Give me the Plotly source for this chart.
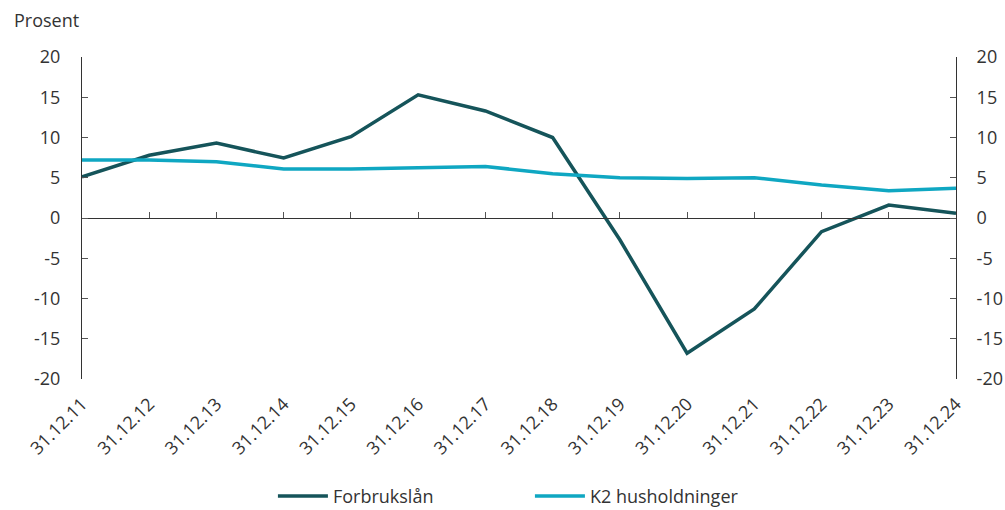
import plotly.graph_objects as go

dates = ["31.12.11", "31.12.12", "31.12.13", "31.12.14", "31.12.15", "31.12.16", "31.12.17",
         "31.12.18", "31.12.19", "31.12.20", "31.12.21", "31.12.22", "31.12.23", "31.12.24"]
forbrukslan = [5.1, 7.8, 9.3, 7.45, 10.1, 15.3, 13.3, 10.0, -2.7, -16.8, -11.3, -1.7, 1.6, 0.6]
k2_hush = [7.2, 7.2, 7.0, 6.1, 6.1, 6.3, 6.4, 5.5, 5.0, 4.9, 5.0, 4.1, 3.4, 3.7]
y_ticks = [20, 15, 10, 5, 0, -5, -10, -15, -20]
y_labels = ["20", "15", "10", "5", "0", "-5", "-10", "-15", "-20"]

DARK = "#15545a"
CYAN = "#0fa7c2"
TXT = "#333333"
FONT = "Open Sans"
FS = 18

idx = list(range(len(dates)))

fig = go.Figure()
fig.add_trace(go.Scatter(x=idx, y=forbrukslan, mode="lines", name="Forbrukslån",
                         line=dict(color=DARK, width=3.5)))
fig.add_trace(go.Scatter(x=idx, y=k2_hush, mode="lines", name="K2 husholdninger",
                         line=dict(color=CYAN, width=3.5)))
fig.add_trace(go.Scatter(x=idx, y=k2_hush, mode="lines", xaxis="x2", yaxis="y2",
                         showlegend=False, hoverinfo="skip", line=dict(width=0), opacity=0))

yax = dict(range=[-20, 20], tickmode="array", tickvals=y_ticks, ticktext=y_labels,
           showgrid=False, zeroline=False, showline=True, linecolor="#333333", linewidth=1,
           ticks="inside", ticklen=6, tickcolor="#555555", automargin=False,
           ticklabelstandoff=17, tickfont=dict(size=FS, color=TXT))

fig.update_layout(
    width=1005, height=510,
    margin=dict(l=82, r=49, t=57, b=131),
    paper_bgcolor="white", plot_bgcolor="white",
    font=dict(family=FONT, size=FS, color=TXT),
    xaxis=dict(range=[0, len(dates) - 1], tickmode="array", tickvals=idx, ticktext=dates,
               tickangle=-45, showgrid=False, zeroline=False, showline=False, ticks="",
               automargin=False, ticklabelstandoff=10, tickfont=dict(size=FS, color=TXT)),
    xaxis2=dict(overlaying="x", range=[0, len(dates) - 1], anchor="free", position=0.5,
                tickmode="array", tickvals=idx, showticklabels=False, ticks="inside",
                ticklen=6, tickcolor="#555555", showline=True, linecolor="#333333", linewidth=1,
                showgrid=False, zeroline=False, automargin=False),
    yaxis=yax,
    yaxis2=dict(yax, overlaying="y", side="right", ticklabelstandoff=16),
    legend=dict(orientation="h", x=0.5125, xanchor="center", yref="container", y=0.027,
                yanchor="middle", font=dict(size=FS, color=TXT), itemwidth=50,
                entrywidth=192, bgcolor="rgba(0,0,0,0)"),
    annotations=[dict(text="Prosent", xref="paper", yref="paper", x=-0.080, y=1.115,
                      xanchor="left", yanchor="middle", showarrow=False,
                      font=dict(size=FS, color=TXT))],
    showlegend=True,
)

fig.write_html("out.html", config={"displayModeBar": False},
               post_script="document.body.style.margin='0';document.body.style.overflow='hidden';")
